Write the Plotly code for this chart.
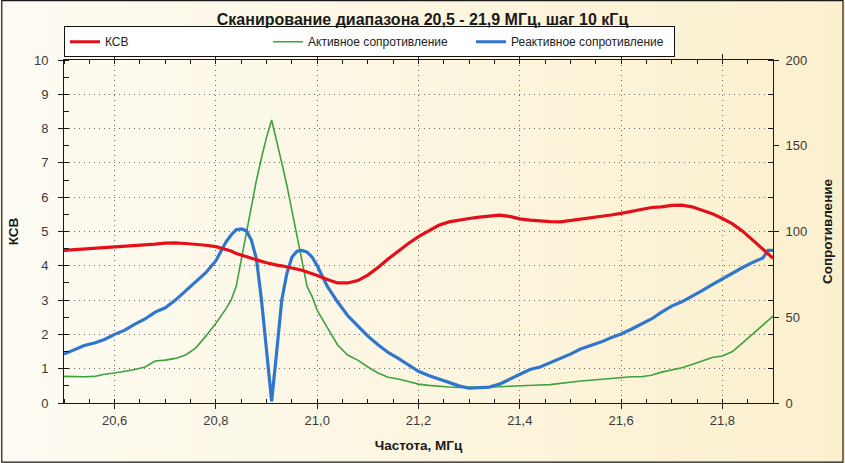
import plotly.graph_objects as go

# ---------------- data ----------------
freq = [20.50, 20.52, 20.54, 20.56, 20.58, 20.60, 20.62, 20.64, 20.66, 20.68,
        20.70, 20.72, 20.74, 20.76, 20.78, 20.80, 20.82, 20.83, 20.84, 20.85,
        20.86, 20.87, 20.88, 20.89, 20.90, 20.91, 20.92, 20.93, 20.94, 20.95,
        20.96, 20.97, 20.98, 20.99, 21.00, 21.02, 21.04, 21.06, 21.08, 21.10,
        21.12, 21.14, 21.16, 21.18, 21.20, 21.22, 21.24, 21.26, 21.28, 21.30,
        21.32, 21.34, 21.36, 21.38, 21.40, 21.42, 21.44, 21.46, 21.48, 21.50,
        21.52, 21.54, 21.56, 21.58, 21.60, 21.62, 21.64, 21.66, 21.68, 21.70,
        21.72, 21.74, 21.76, 21.78, 21.80, 21.82, 21.84, 21.86, 21.88, 21.89,
        21.90]

ksv = [4.45, 4.47, 4.48, 4.50, 4.52, 4.53, 4.56, 4.59, 4.61, 4.63,
       4.66, 4.67, 4.65, 4.63, 4.60, 4.56, 4.48, 4.43, 4.36, 4.31,
       4.26, 4.21, 4.17, 4.13, 4.09, 4.05, 4.02, 4.00, 3.97, 3.94,
       3.91, 3.87, 3.82, 3.78, 3.72, 3.60, 3.50, 3.50, 3.57, 3.73,
       3.95, 4.20, 4.43, 4.65, 4.85, 5.02, 5.18, 5.28, 5.34, 5.38,
       5.42, 5.46, 5.48, 5.44, 5.37, 5.33, 5.30, 5.29, 5.28, 5.32,
       5.34, 5.38, 5.43, 5.48, 5.53, 5.58, 5.64, 5.70, 5.72, 5.76,
       5.77, 5.72, 5.62, 5.52, 5.38, 5.22, 5.01, 4.75, 4.48, 4.35,
       4.22]

r_active = [15.5, 15.3, 15.3, 15.5, 16.8, 17.5, 18.3, 19.5, 21.0, 24.5,
            25.0, 26.0, 28.0, 32.0, 39.0, 46.5, 55.0, 60.0, 68.0, 84.0,
            100.0, 115.0, 130.0, 143.0, 155.0, 165.0, 153.0, 140.0, 127.0, 112.0,
            96.0, 82.0, 68.0, 62.0, 54.0, 44.0, 34.0, 28.0, 25.0, 21.0,
            17.5, 15.0, 14.0, 12.5, 11.0, 10.3, 9.6, 9.3, 9.1, 9.1,
            9.2, 9.4, 9.5, 9.8, 9.9, 10.2, 10.5, 10.7, 11.5, 12.3,
            12.8, 13.3, 13.8, 14.0, 14.8, 15.3, 15.3, 16.2, 18.0, 19.2,
            20.5, 22.5, 24.7, 26.5, 27.4, 30.0, 35.0, 40.0, 45.0, 48.0,
            50.7]

r_reactive = [28.5, 31.0, 33.5, 35.0, 37.0, 40.0, 42.5, 46.0, 49.0, 53.0,
              55.5, 60.0, 65.5, 71.0, 76.0, 83.0, 94.0, 98.0, 101.0, 101.5,
              100.5, 95.0, 84.0, 60.0, 30.0, 1.0, 30.0, 60.0, 75.5, 85.0,
              88.5, 89.0, 88.0, 85.0, 80.0, 68.0, 59.0, 51.0, 45.0, 39.0,
              34.0, 29.5, 26.0, 22.0, 18.5, 16.0, 14.0, 12.0, 10.0, 8.6,
              8.8, 9.3, 11.0, 14.0, 17.0, 19.5, 21.0, 23.5, 25.5, 28.5,
              31.5, 33.5, 35.5, 38.0, 40.2, 43.0, 46.0, 49.0, 53.0, 56.5,
              59.0, 62.0, 65.5, 69.0, 72.5, 75.5, 79.0, 82.0, 84.5, 89.0,
              89.0]

title_text = "Сканирование диапазона 20,5 - 21,9 МГц, шаг 10 кГц"
x_title = "Частота, МГц"
y_left_title = "КСВ"
y_right_title = "Сопротивление"
names = ["КСВ", "Активное сопротивление", "Реактивное сопротивление"]

# ---------------- figure ----------------
W, H = 845, 463
ML, MR, MT, MB = 63, 71, 60, 60
PW, PH = W - ML - MR, H - MT - MB

FONT = "Liberation Sans, Arial, sans-serif"
RED = "#e3101b"
GREEN = "#3ea23e"
BLUE = "#2f76cf"
GRIDDASH = "1px,4px"

fig = go.Figure()
fig.add_trace(go.Scatter(x=freq, y=ksv, name=names[0], mode="lines",
                         line=dict(color=RED, width=3.2), yaxis="y2"))
fig.add_trace(go.Scatter(x=freq, y=r_active, name=names[1], mode="lines",
                         line=dict(color=GREEN, width=1.6), yaxis="y"))
fig.add_trace(go.Scatter(x=freq, y=r_reactive, name=names[2], mode="lines",
                         line=dict(color=BLUE, width=3.2), yaxis="y"))

# background gradient (left: pale cream, right: warmer yellow)
c0 = (253, 251, 243)
c1 = (251, 240, 206)
N = 40
shapes = []
px0 = -ML / PW
px1 = (W - ML) / PW
for i in range(N):
    t = i / (N - 1)
    c = tuple(round(c0[k] + (c1[k] - c0[k]) * t) for k in range(3))
    xa = px0 + (px1 - px0) * i / N
    xb = px0 + (px1 - px0) * (i + 1) / N + 0.002
    shapes.append(dict(type="rect", xref="paper", yref="paper",
                       x0=xa, x1=xb, y0=-MB / PH - 0.01, y1=(H - MB) / PH + 0.01,
                       fillcolor="rgb(%d,%d,%d)" % c, line=dict(width=0),
                       layer="below"))
# outer frame
shapes.append(dict(type="rect", xref="paper", yref="paper",
                   x0=(-ML + 0.6) / PW, x1=(W - ML - 0.8) / PW,
                   y0=(-MB + 0.8) / PH, y1=(H - MB - 0.6) / PH,
                   line=dict(color="#1a1a1a", width=1.2), fillcolor="rgba(0,0,0,0)",
                   layer="above"))

tickfont = dict(family=FONT, size=13, color="#3a3a3a")
titlefont = dict(family=FONT, size=13.5, color="#1a1a1a", weight="bold")

fig.update_layout(
    width=W, height=H,
    margin=dict(l=ML, r=MR, t=MT, b=MB, pad=0),
    paper_bgcolor="rgb(252,246,228)",
    plot_bgcolor="rgba(0,0,0,0)",
    separators=", ",
    shapes=shapes,
    title=dict(text=title_text, x=0.5, xanchor="center", y=1 - 19 / H, yanchor="middle",
               font=dict(family=FONT, size=16, color="#1a1a1a", weight="bold")),
    showlegend=True,
    legend=dict(orientation="h", x=0, xanchor="left", y=1.008, yanchor="bottom",
                bgcolor="white", bordercolor="#111", borderwidth=1,
                font=dict(family=FONT, size=12, color="#222"),
                entrywidth=158, entrywidthmode="pixels",
                itemwidth=30, tracegroupgap=0),
    xaxis=dict(range=[20.5, 21.9], tick0=20.6, dtick=0.2, tickformat=".1f",
               showline=True, linecolor="#1a1a1a", linewidth=1, mirror="ticks",
               ticks="outside", ticklen=5, tickcolor="#1a1a1a",
               minor=dict(dtick=0.05, tick0=20.5, ticks="inside", ticklen=4,
                          tickcolor="#1a1a1a", showgrid=False),
               showgrid=True, gridcolor="#6e6e6e", griddash=GRIDDASH, gridwidth=1,
               zeroline=False, tickfont=tickfont,
               title=dict(text=x_title, font=titlefont, standoff=13)),
    yaxis=dict(range=[0, 200], dtick=50, side="right",
               showline=True, linecolor="#1a1a1a", linewidth=1,
               ticks="outside", ticklen=5, tickcolor="#1a1a1a",
               minor=dict(dtick=20, tick0=0, ticks="inside", ticklen=5,
                          tickcolor="#1a1a1a", showgrid=False),
               showgrid=False, zeroline=False, tickfont=tickfont,
               ticklabelstandoff=4,
               title=dict(text=y_right_title, font=titlefont, standoff=16)),
    yaxis2=dict(range=[0, 10], dtick=1, side="left", overlaying="y",
                showline=True, linecolor="#1a1a1a", linewidth=1,
                ticks="outside", ticklen=5, tickcolor="#1a1a1a",
                minor=dict(dtick=0.5, tick0=0, ticks="inside", ticklen=5,
                           tickcolor="#1a1a1a", showgrid=False),
                showgrid=True, gridcolor="#6e6e6e", griddash=GRIDDASH, gridwidth=1,
                zeroline=False, tickfont=tickfont,
                ticklabelstandoff=7,
                title=dict(text=y_left_title, font=titlefont, standoff=12)),
)

fig.write_html(
    "out.html",
    config={"displayModeBar": False},
    post_script="document.body.style.margin='0';document.body.style.overflow='hidden';",
)
